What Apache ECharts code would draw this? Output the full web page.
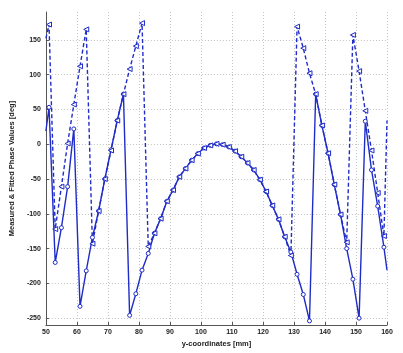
<!DOCTYPE html>
<html>
<head>
<meta charset="utf-8">
<script src="https://cdn.jsdelivr.net/npm/echarts@6/dist/echarts.min.js"></script>
<style>
    html, body { margin: 0; padding: 0; background: #fff; }
    #chart { width: 403px; height: 353px; }
</style>
</head>
<body>
<div id="chart"></div>
<script>
// y-coordinates [mm]; 50 and 160 are only the ends of the line where it leaves the axes (no marker)
var yCoords = [50, 51, 53, 55, 57, 59, 61, 63, 65, 67, 69, 71, 73, 75, 77, 79, 81, 83, 85, 87, 89,
    91, 93, 95, 97, 99, 101, 103, 105, 107, 109, 111, 113, 115, 117, 119, 121, 123, 125, 127, 129,
    131, 133, 135, 137, 139, 141, 143, 145, 147, 149, 151, 153, 155, 157, 159, 160];

// measured phase (solid, circles)
var measured = [19, 53, -170, -120, -61, 22, -233, -182, -134, -96, -50, -8, 34, 72, -246, -215, -181, -157, -128, -107, -82,
    -66, -47, -35, -23, -13.5, -5.5, -1.7, 0.5, -0.7, -4, -10, -18, -27, -37, -51, -68, -88, -108, -133, -155,
    -187, -216, -254, 72, 27, -13, -58, -101, -150, -194, -250, 33, -37, -89, -148, -181];

// fitted phase (dashed, triangles)
var fitted = [152, 172, -122, -61, 1, 57, 112, 165, -143, -96, -50, -9, 34, 72, 108, 141, 174, -147, -128, -107, -82,
    -66, -47, -35, -23, -13.5, -5.5, -1.7, 0.5, -0.7, -4, -10, -18, -27, -37, -51, -68, -88, -108, -133, -160,
    169, 138, 102, 72, 27, -13, -58, -101, -141, 157, 105, 48, -9, -70, -132, 34];

var yTicks = [-250, -200, -150, -100, -50, 0, 50, 100, 150];

function pairs(vals) {
    var last = yCoords.length - 1;
    return yCoords.map(function (x, i) {
        var item = {value: [x, vals[i]]};
        if (i === 0 || i === last) {
            item.symbol = 'none';
        }
        return item;
    });
}

var blue = '#1f2cc8';
var labelStyle = {color: '#222', fontFamily: 'Liberation Sans, Arial', fontWeight: 'bold', fontSize: 7};
var nameStyle = {color: '#222', fontFamily: 'Liberation Sans, Arial', fontWeight: 'bold', fontSize: 7.5};

var chart = echarts.init(document.getElementById('chart'));
var option = {
    animation: false,
    backgroundColor: '#fff',
    grid: {left: 32, right: 16, top: 12, bottom: 26},
    xAxis: {
        type: 'value',
        min: 50,
        max: 160,
        interval: 10,
        name: 'y-coordinates [mm]',
        nameLocation: 'middle',
        nameGap: 11,
        nameTextStyle: nameStyle,
        axisLine: {show: true, onZero: false, lineStyle: {color: '#555', width: 1}},
        axisTick: {show: true, inside: true, length: 3, lineStyle: {color: '#555'}},
        axisLabel: Object.assign({margin: 3, showMinLabel: true, showMaxLabel: true}, labelStyle),
        splitLine: {show: true, lineStyle: {color: '#c4c4c4', type: [1, 2], width: 1}}
    },
    yAxis: {
        type: 'value',
        min: -260,
        max: 190,
        name: 'Measured & Fitted Phase Values [deg]',
        nameLocation: 'middle',
        nameGap: 20,
        nameTextStyle: nameStyle,
        axisLine: {show: true, onZero: false, lineStyle: {color: '#555', width: 1}},
        axisTick: {show: true, inside: true, length: 3, customValues: yTicks, lineStyle: {color: '#555'}},
        axisLabel: Object.assign({margin: 5, customValues: yTicks}, labelStyle),
        splitLine: {show: true, lineStyle: {color: '#c4c4c4', type: [1, 2], width: 1}}
    },
    series: [
        {
            name: 'Measured',
            type: 'line',
            data: pairs(measured),
            symbol: 'circle',
            symbolSize: 4,
            showAllSymbol: true,
            lineStyle: {color: blue, width: 1.4},
            itemStyle: {color: '#fff', borderColor: blue, borderWidth: 1}
        },
        {
            name: 'Fitted',
            type: 'line',
            data: pairs(fitted),
            symbol: 'triangle',
            symbolRotate: 90,
            symbolSize: 5,
            showAllSymbol: true,
            lineStyle: {color: blue, width: 1.4, type: [4, 2.5]},
            itemStyle: {color: '#fff', borderColor: blue, borderWidth: 1}
        }
    ]
};
chart.setOption(option);
</script>
</body>
</html>
